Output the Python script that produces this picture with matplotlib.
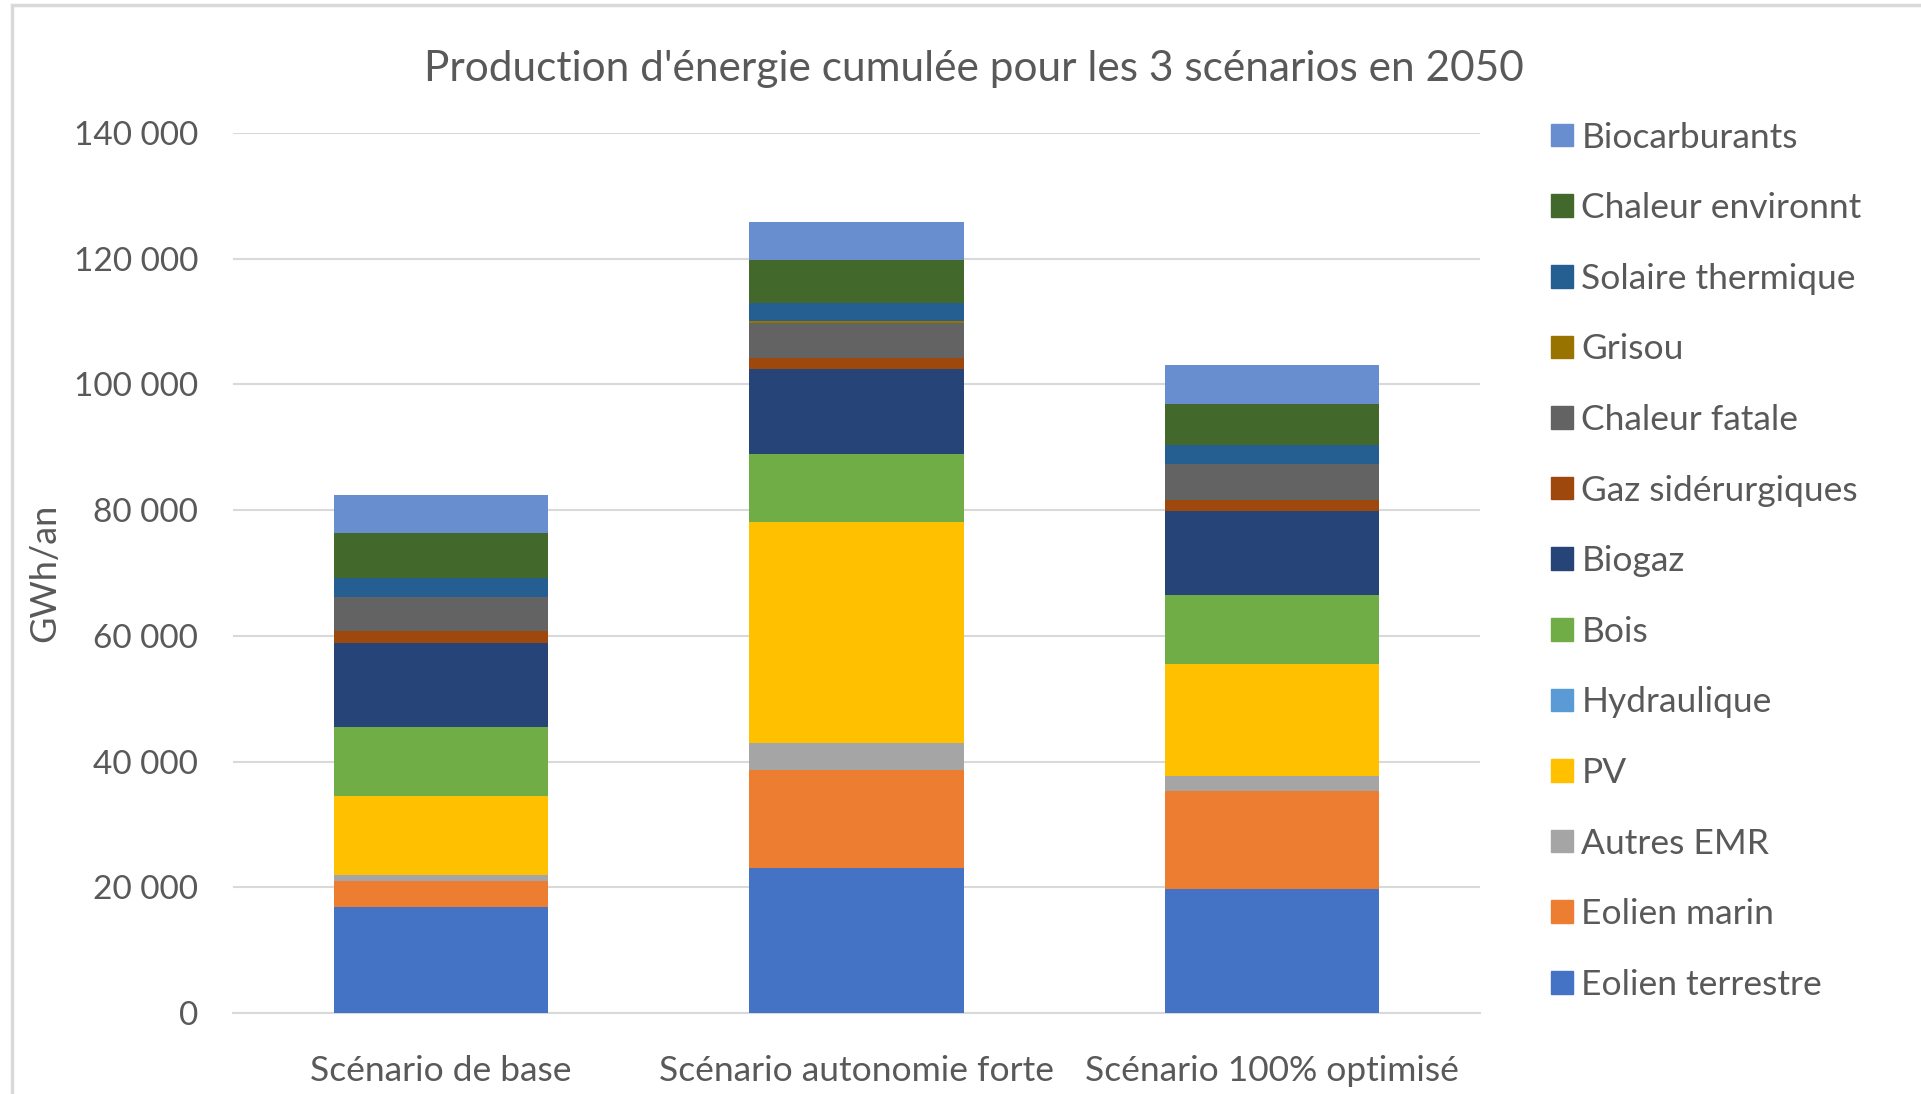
import matplotlib
matplotlib.use("Agg")
import matplotlib.pyplot as plt
import matplotlib.patches as mpatches
import matplotlib.ticker as mticker
import numpy as np

plt.rcParams["font.family"] = ["Lato", "DejaVu Sans"]

scenarios = ["Scénario de base", "Scénario autonomie forte", "Scénario 100% optimisé"]

# GWh/an per source, one value per scenario (bottom to top)
eolien_terrestre = [16900, 23000, 19800]
eolien_marin = [4100, 15600, 15500]
autres_emr = [900, 4400, 2400]
pv = [12650, 35100, 17850]
hydraulique = [0, 0, 0]
bois = [10950, 10800, 11000]
biogaz = [13400, 13500, 13300]
gaz_siderurgiques = [1800, 1800, 1800]
chaleur_fatale = [5500, 5600, 5700]
grisou = [0, 300, 0]
solaire_thermique = [3000, 2900, 3050]
chaleur_environnt = [7100, 6750, 6500]
biocarburants = [6100, 6150, 6200]

series = [
    ("Eolien terrestre", eolien_terrestre, "#4472C4"),
    ("Eolien marin", eolien_marin, "#ED7D31"),
    ("Autres EMR", autres_emr, "#A5A5A5"),
    ("PV", pv, "#FFC000"),
    ("Hydraulique", hydraulique, "#5B9BD5"),
    ("Bois", bois, "#70AD47"),
    ("Biogaz", biogaz, "#264478"),
    ("Gaz sidérurgiques", gaz_siderurgiques, "#9E480E"),
    ("Chaleur fatale", chaleur_fatale, "#636363"),
    ("Grisou", grisou, "#997300"),
    ("Solaire thermique", solaire_thermique, "#255E91"),
    ("Chaleur environnt", chaleur_environnt, "#43682B"),
    ("Biocarburants", biocarburants, "#698ED0"),
]

text_color = "#595959"
grid_color = "#D9D9D9"

fig = plt.figure(figsize=(19.21, 10.94), dpi=100)
ax = fig.add_axes([0.1213, 0.074, 0.6491, 0.8044])

x = np.arange(len(scenarios))
bottom = np.zeros(len(scenarios))
handles = []
for name, vals, color in series:
    vals = np.array(vals, dtype=float)
    ax.bar(x, vals, width=0.516, bottom=bottom, color=color, zorder=3)
    bottom += vals
    handles.append(mpatches.Patch(color=color, label=name))

ax.set_xlim(-0.5, 2.5)
ax.set_ylim(0, 140000)
ax.yaxis.set_major_locator(mticker.MultipleLocator(20000))
ax.yaxis.set_major_formatter(
    mticker.FuncFormatter(lambda v, p: f"{int(v):,}".replace(",", " "))
)
ax.grid(axis="y", color=grid_color, linewidth=1.5, zorder=0)
ax.set_xticks(x)
ax.set_xticklabels(scenarios)
ax.tick_params(axis="both", length=0, colors=text_color)
ax.tick_params(axis="y", pad=25, labelsize=24)
ax.tick_params(axis="x", pad=30, labelsize=25.5)
for s in ["top", "right", "left"]:
    ax.spines[s].set_visible(False)
ax.spines["bottom"].set_color(grid_color)
ax.spines["bottom"].set_linewidth(1.5)

ax.set_ylabel("GWh/an", fontsize=26, color=text_color, labelpad=9)
fig.text(0.507, 0.937, "Production d'énergie cumulée pour les 3 scénarios en 2050",
         ha="center", va="center", fontsize=30.5, color=text_color)

fig.legend(handles=handles[::-1], loc="upper left", bbox_to_anchor=(0.791, 0.918),
           frameon=False, fontsize=25.5, labelcolor=text_color,
           handlelength=0.6, handleheight=0.6, handletextpad=0.25,
           labelspacing=1.09)

# light frame around the chart area
fig.patches.append(mpatches.Rectangle((0.0065, -0.01), 1.0, 1.005, transform=fig.transFigure,
                                      fill=False, edgecolor=grid_color, linewidth=2.5))

fig.savefig("out.png", dpi=100)
